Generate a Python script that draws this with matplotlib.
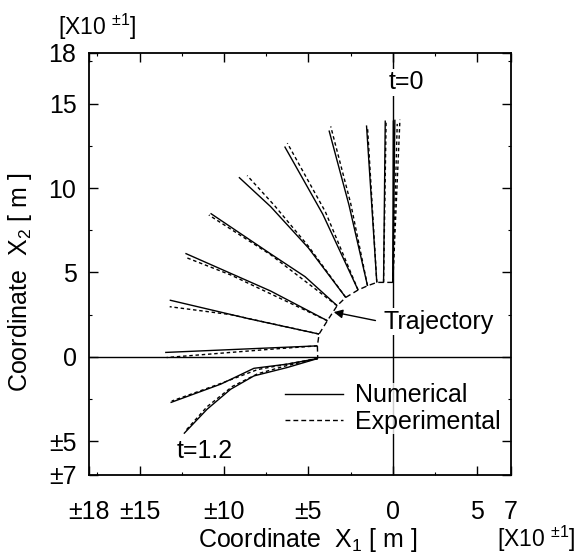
import matplotlib
matplotlib.use('Agg')
import matplotlib.pyplot as plt
from matplotlib.lines import Line2D

plt.rcParams['font.family'] = ['Liberation Sans', 'DejaVu Sans']
plt.rcParams['mathtext.default'] = 'regular'

# ---- ticks ----
x_ticks = [-18, -15, -10, -5, 0, 5, 7]
x_tick_labels = ['±18', '±15', '±10', '±5', '0', '5', '7']
y_ticks = [-7, -5, 0, 5, 10, 15, 18]
y_tick_labels = ['±7', '±5', '0', '5', '10', '15', '18']
x_minor = [-17.5, -12.5, -7.5, -2.5, 2.5]
y_minor = [-2.5, 2.5, 7.5, 12.5, 17.5]

# ---- trajectory of the rod base ----
traj_x = [0.0, -0.55, -0.95, -1.5, -2.06, -2.79, -3.3, -3.88, -4.37, -4.47, -4.45]
traj_y = [4.41, 4.41, 4.41, 4.21, 3.96, 3.52, 3.03, 2.14, 1.35, 0.65, -0.1]

# ---- numerical rod shapes, t = 0.0 ... 1.2 ----
num_x = [
    [0.0, 0.12],
    [0.0, 0.03],
    [-0.55, -0.45],
    [-0.95, -1.25, -1.56],
    [-1.5, -2.6, -3.78],
    [-2.06, -4.15, -6.41],
    [-2.79, -5.0, -7.24, -9.12],
    [-3.3, -5.2, -7.24, -10.8],
    [-3.88, -7.24, -12.29],
    [-4.37, -8.5, -13.22],
    [-4.47, -13.49],
    [-4.45, -6.25, -8.23, -10.2, -13.17],
    [-4.45, -6.25, -8.23, -9.61, -11.0, -12.38],
]
num_y = [
    [4.41, 14.05],
    [4.41, 14.0],
    [4.41, 14.0],
    [4.41, 9.0, 13.71],
    [4.21, 9.0, 13.41],
    [3.96, 8.45, 12.46],
    [3.52, 6.45, 8.9, 10.64],
    [3.03, 4.75, 6.1, 8.5],
    [2.14, 3.9, 6.13],
    [1.35, 2.25, 3.36],
    [0.65, 0.26],
    [-0.1, -0.43, -0.68, -1.62, -2.71],
    [-0.1, -0.63, -1.13, -1.92, -3.1, -4.55],
]

# ---- experimental rod shapes ----
exp_x = [
    [0.0, 0.42],
    [0.0, 0.26],
    [-0.55, -0.4],
    [-0.95, -1.5],
    [-1.5, -2.5, -3.68],
    [-2.06, -4.0, -6.25],
    [-2.79, -5.0, -7.0, -8.63],
    [-3.3, -7.24, -10.9],
    [-3.88, -9.6, -12.29],
    [-4.37, -9.6, -13.22],
    [-4.47, -7.24, -13.4],
    [-4.45, -8.0, -10.2, -13.1],
    [-4.45, -6.4, -8.0, -9.5, -11.0, -12.29],
]
exp_y = [
    [4.41, 14.05],
    [4.41, 13.8],
    [4.41, 13.9],
    [4.41, 13.6],
    [4.21, 9.1, 13.65],
    [3.96, 8.6, 12.66],
    [3.52, 6.55, 8.95, 10.74],
    [3.03, 6.05, 8.4],
    [2.14, 4.85, 5.9],
    [1.35, 2.5, 2.97],
    [0.65, 0.45, -0.04],
    [-0.1, -0.75, -1.58, -2.62],
    [-0.1, -0.55, -1.0, -1.75, -2.95, -4.39],
]

W, H = 584, 560
fig = plt.figure(figsize=(W / 100, H / 100), dpi=100)
ax = fig.add_axes([89 / W, 1 - 475 / H, 422 / W, 422 / H])
ax.set_xlim(-18, 7)
ax.set_ylim(-7, 18)

ax.axhline(0, color='black', lw=1.0, zorder=1)
ax.axvline(0, color='black', lw=1.0, zorder=1)

ax.plot(traj_x, traj_y, color='black', lw=1.0, linestyle=(0, (4, 2.5)), zorder=2)

for xs, ys in zip(num_x, num_y):
    ax.plot(xs, ys, color='black', lw=1.0, solid_capstyle='butt', zorder=3)
for xs, ys in zip(exp_x, exp_y):
    ax.plot(xs, ys, color='black', lw=1.0, linestyle=(0, (2.5, 2)), zorder=3)

tfs = 18
ax.text(0.78, 16.28, 't=0', fontsize=tfs, ha='center', va='center', zorder=5,
        bbox=dict(fc='white', ec='none', pad=1))
ax.text(-11.12, -5.56, 't=1.2', fontsize=tfs, ha='center', va='center', zorder=5)
ax.text(-0.55, 2.09, 'Trajectory', fontsize=tfs, ha='left', va='center', zorder=5,
        bbox=dict(fc='white', ec='none', pad=1))
ax.annotate('', xy=(-3.5, 2.65), xytext=(-1.03, 2.15),
            arrowprops=dict(arrowstyle='-|>', color='black', lw=1.0,
                            mutation_scale=13, shrinkA=0, shrinkB=0), zorder=5)

handles = [Line2D([], [], color='black', lw=1.0),
           Line2D([], [], color='black', lw=1.0, linestyle=(0, (3.5, 2.2)))]
leg = ax.legend(handles, ['Numerical', 'Experimental'], loc='upper left',
                bbox_to_anchor=(0.4645, 0.217), fontsize=tfs, frameon=True,
                handlelength=2.3, handletextpad=0.5, labelspacing=0.1,
                borderpad=0.0, borderaxespad=0.0, fancybox=False)
leg.get_frame().set_facecolor('white')
leg.get_frame().set_edgecolor('none')
leg.set_zorder(5)

ax.set_xticks(x_ticks)
ax.set_xticklabels(x_tick_labels)
ax.set_yticks(y_ticks)
ax.set_yticklabels(y_tick_labels)
ax.set_xticks(x_minor, minor=True)
ax.set_yticks(y_minor, minor=True)
ax.tick_params(which='both', direction='in', top=True, right=True, colors='black')
ax.tick_params(which='major', length=6.5, width=1.0, labelsize=tfs)
ax.tick_params(which='minor', length=2, width=0.8)
ax.tick_params(axis='x', which='major', pad=18)
ax.tick_params(axis='y', which='major', pad=9)
for s in ax.spines.values():
    s.set_linewidth(1.3)

fig.text(308 / W, 1 - 540 / H, 'Coordinate  X$_1$ [ m ]', fontsize=tfs,
         ha='center', va='center')
fig.text(20 / W, 1 - 282 / H, 'Coordinate  X$_2$ [ m ]', fontsize=tfs,
         ha='center', va='center', rotation=90)
fig.text(97 / W, 1 - 27 / H, '[X10 $^{±1}$]', fontsize=16.5, ha='center', va='center')
fig.text(536 / W, 1 - 539 / H, '[X10 $^{±1}$]', fontsize=16.5, ha='center', va='center')

fig.savefig('out.png', dpi=100)
